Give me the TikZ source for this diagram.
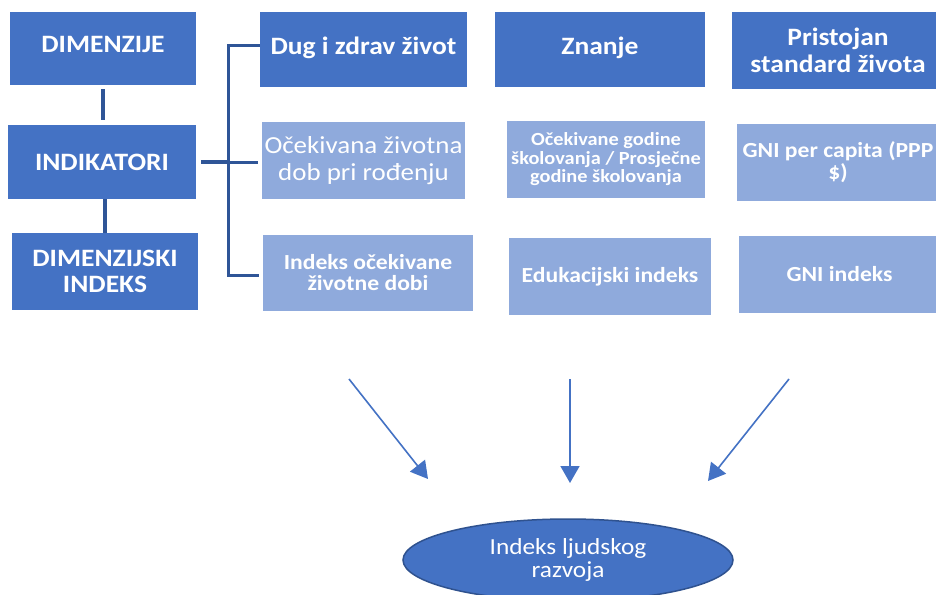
\documentclass[tikz,border=0pt]{standalone}
\usepackage{fontspec}
\setmainfont{Carlito}[FakeStretch=1.1]
\usetikzlibrary{shapes.geometric,arrows.meta}
\definecolor{cdark}{HTML}{4472C4}
\definecolor{clight}{HTML}{8FAADC}
\definecolor{cline}{HTML}{2F5597}
\definecolor{cedge}{HTML}{2F528F}
\begin{document}
\begin{tikzpicture}[x=1pt,y=-1pt,
 box/.style={rectangle, inner sep=0pt, text=white, align=center},
 dk/.style={box, fill=cdark},
 lt/.style={box, fill=clight},
 big/.style={font=\bfseries\fontsize{25}{26.5}\selectfont},
 conn/.style={draw=cline, line width=3pt},
 arr/.style={draw=cdark, line width=1.6pt, -{Triangle[length=17pt,width=19pt]}},
]
\useasboundingbox (0,0) rectangle (936,594);
\clip (0,0) rectangle (936,594);
\fill[white] (0,0) rectangle (936,594);

% left column
\node[dk, big, minimum width=186pt, minimum height=73pt, text depth=8pt] (dim) at (103,48.5) {DIMENZIJE};
\node[dk, big, minimum width=188pt, minimum height=74pt] (ind) at (102,162) {INDIKATORI};
\node[dk, big, minimum width=186pt, minimum height=77pt] (dimi) at (105,271.5) {DIMENZIJSKI\\INDEKS};

% column 1
\node[dk, big, minimum width=207pt, minimum height=75pt, text depth=8pt] (dug) at (363.5,49.5) {Dug i zdrav život};
\node[lt, font=\fontsize{24.5}{26.5}\selectfont, minimum width=203pt, minimum height=77pt] (oce) at (363.5,160.5) {Očekivana životna\\dob pri rođenju};
\node[lt, font=\bfseries\fontsize{21.5}{21}\selectfont, minimum width=210pt, minimum height=76pt] (ioc) at (368,273) {Indeks očekivane\\životne dobi};

% column 2
\node[dk, big, minimum width=210pt, minimum height=75pt, text depth=8pt] (zna) at (600,49.5) {Znanje};
\node[lt, font=\bfseries\fontsize{18.5}{18.5}\selectfont, minimum width=198pt, minimum height=77pt] (ocg) at (606,159.5) {Očekivane godine\\školovanja / Prosječne\\godine školovanja};
\node[lt, font=\bfseries\fontsize{21.5}{22}\selectfont, minimum width=202pt, minimum height=77pt] (edu) at (610,276.5) {Edukacijski indeks};

% column 3
\node[dk, big, minimum width=212pt, minimum height=77pt] (pri) at (838,50.5) {Pristojan\\standard života};
\node[lt, font=\bfseries\fontsize{21.5}{22}\selectfont, minimum width=202pt, minimum height=77pt] (gnp) at (838,162.5) {GNI per capita (PPP\\\$)};
\node[lt, font=\bfseries\fontsize{21.5}{22}\selectfont, minimum width=201pt, minimum height=77pt] (gni) at (839.5,274.5) {GNI indeks};

% result
\node[ellipse, fill=cdark, draw=cedge, line width=1.5pt, inner sep=0pt, minimum width=330pt, minimum height=82pt,
      text=white, align=center, font=\fontsize{23}{23.5}\selectfont] (hdi) at (568,560) {Indeks ljudskog\\razvoja};

% connectors left
\draw[conn, line width=4pt, shorten <=4pt, shorten >=5pt] (dim.south) -- (dim.south |- ind.north);
\draw[conn, line width=3.5pt] (ind.south -| dimi.north) -- (dimi.north);

% bracket
\coordinate (bx) at (228,0);
\draw[conn, line width=3.5pt] ([xshift=5pt]ind.east) -- (ind.east -| bx);
\draw[conn] ([yshift=3.5pt]dug.west) -- ([yshift=3.5pt]dug.west -| bx) -- ([yshift=-2pt]ioc.west -| bx) -- ([xshift=-4pt,yshift=-2pt]ioc.west);
\draw[conn] (ind.east -| bx) -- ([xshift=-4pt]ind.east -| oce.west);

% arrows
\coordinate (a1s) at (349,379); \coordinate (a1e) at (428,479);
\coordinate (a2s) at (570,379); \coordinate (a2e) at (570,483);
\coordinate (a3s) at (789,379); \coordinate (a3e) at (708,481);
\draw[arr] (a1s) -- (a1e);
\draw[arr] (a2s) -- (a2e);
\draw[arr] (a3s) -- (a3e);
\end{tikzpicture}
\end{document}
